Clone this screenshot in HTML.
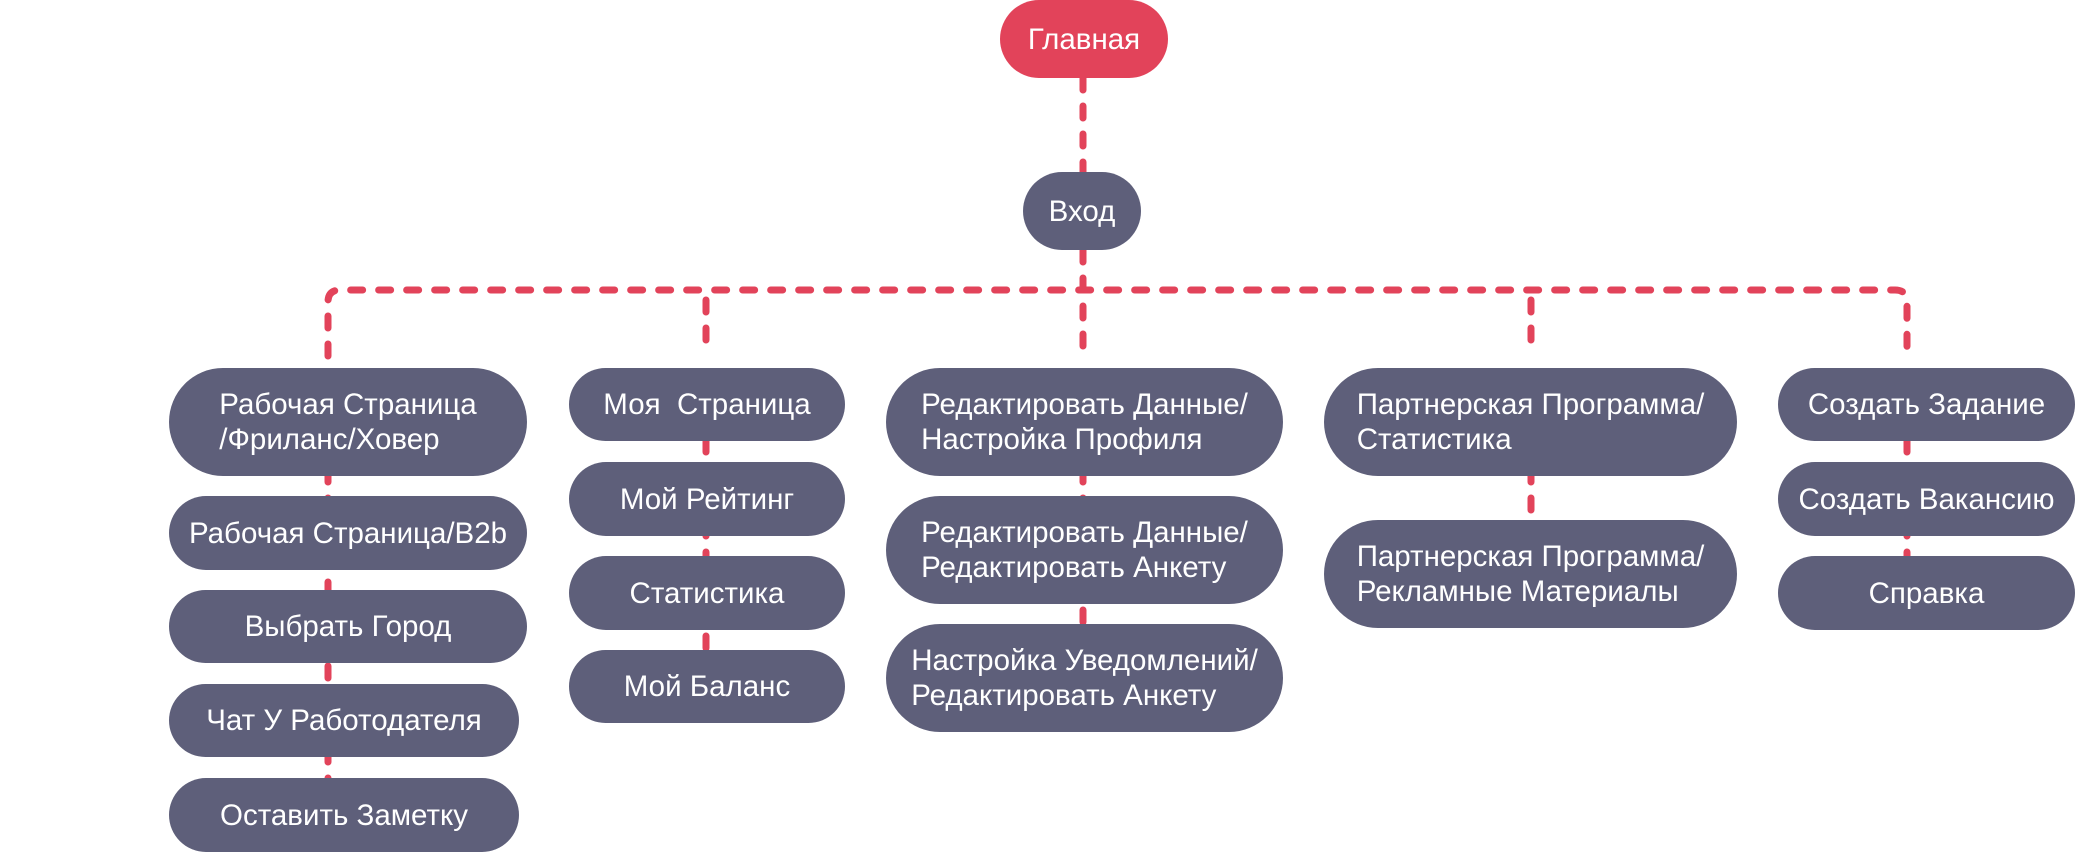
<!DOCTYPE html>
<html><head><meta charset="utf-8"><style>
html,body{margin:0;padding:0;background:#fff;}
body{width:2076px;height:852px;position:relative;overflow:hidden;font-family:"Liberation Sans","DejaVu Sans",sans-serif;}
svg{position:absolute;left:0;top:0;}
.n{position:absolute;background:#5E5F7A;color:#fff;border-radius:40px;display:flex;align-items:center;justify-content:center;font-size:29.5px;line-height:35px;}
.n span{display:inline-block;text-align:left;white-space:nowrap;}
.r{background:#E2435A;}
</style></head><body>
<svg width="2076" height="852">
<g stroke="#E2435A" stroke-width="7" stroke-linecap="round" fill="none" stroke-dasharray="12 16">
<line x1="1083" y1="78" x2="1083" y2="172"/>
<line x1="1083" y1="250" x2="1083" y2="356"/>
<path d="M328 356 V302 Q328 290 340 290 H1895 Q1907 290 1907 302 V356"/>
<line x1="706" y1="300" x2="706" y2="356"/>
<line x1="1531" y1="300" x2="1531" y2="356"/>
<line x1="328" y1="470" x2="328" y2="790"/>
<line x1="706" y1="440" x2="706" y2="660"/>
<line x1="1083" y1="470" x2="1083" y2="630"/>
<line x1="1531" y1="470" x2="1531" y2="525"/>
<line x1="1907" y1="440" x2="1907" y2="560"/>
</g>
</svg>
<div class="n r" style="left:1000px;top:0;width:168px;height:78px;"><span>Главная</span></div>
<div class="n" style="left:1023px;top:172px;width:118px;height:78px;"><span>Вход</span></div>

<div class="n" style="left:169px;top:368px;width:358px;height:108px;border-radius:54px;"><span>Рабочая Страница<br>/Фриланс/Ховер</span></div>
<div class="n" style="left:169px;top:496px;width:358px;height:74px;"><span>Рабочая Страница/B2b</span></div>
<div class="n" style="left:169px;top:590px;width:358px;height:73px;"><span>Выбрать Город</span></div>
<div class="n" style="left:169px;top:684px;width:350px;height:73px;"><span>Чат У Работодателя</span></div>
<div class="n" style="left:169px;top:778px;width:350px;height:74px;"><span>Оставить Заметку</span></div>

<div class="n" style="left:569px;top:368px;width:276px;height:73px;"><span>Моя&nbsp; Страница</span></div>
<div class="n" style="left:569px;top:462px;width:276px;height:74px;"><span>Мой Рейтинг</span></div>
<div class="n" style="left:569px;top:556px;width:276px;height:74px;"><span>Статистика</span></div>
<div class="n" style="left:569px;top:650px;width:276px;height:73px;"><span>Мой Баланс</span></div>

<div class="n" style="left:886px;top:368px;width:397px;height:108px;border-radius:54px;"><span>Редактировать Данные/<br>Настройка Профиля</span></div>
<div class="n" style="left:886px;top:496px;width:397px;height:108px;border-radius:54px;"><span>Редактировать Данные/<br>Редактировать Анкету</span></div>
<div class="n" style="left:886px;top:624px;width:397px;height:108px;border-radius:54px;"><span>Настройка Уведомлений/<br>Редактировать Анкету</span></div>

<div class="n" style="left:1324px;top:368px;width:413px;height:108px;border-radius:54px;"><span>Партнерская Программа/<br>Статистика</span></div>
<div class="n" style="left:1324px;top:520px;width:413px;height:108px;border-radius:54px;"><span>Партнерская Программа/<br>Рекламные Материалы</span></div>

<div class="n" style="left:1778px;top:368px;width:297px;height:73px;"><span>Создать Задание</span></div>
<div class="n" style="left:1778px;top:462px;width:297px;height:74px;"><span>Создать Вакансию</span></div>
<div class="n" style="left:1778px;top:556px;width:297px;height:74px;"><span>Справка</span></div>
</body></html>
